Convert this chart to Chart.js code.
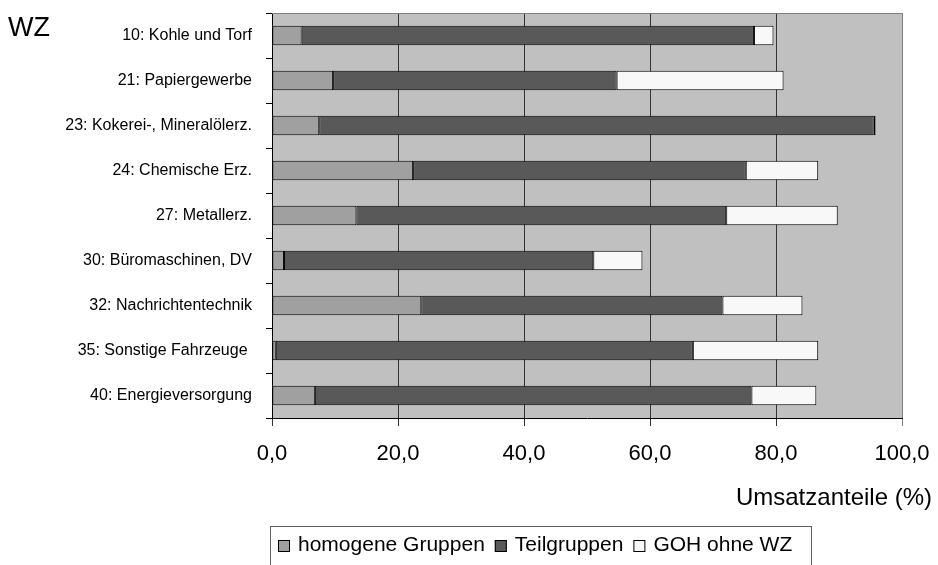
<!DOCTYPE html>
<html>
<head>
<meta charset="utf-8">
<script src="https://cdn.jsdelivr.net/npm/chart.js@4.4.1/dist/chart.umd.min.js"></script>
<style>
  html, body { margin: 0; padding: 0; background: #fff; }
  #wrap { width: 938px; height: 565px; }
</style>
</head>
<body>
<div id="wrap"><canvas id="bar-chart"></canvas></div>
<script>
  const categories = [
    "10: Kohle und Torf",
    "21: Papiergewerbe",
    "23: Kokerei-, Mineralölerz.",
    "24: Chemische Erz.",
    "27: Metallerz.",
    "30: Büromaschinen, DV",
    "32: Nachrichtentechnik",
    "35: Sonstige Fahrzeuge ",
    "40: Energieversorgung"
  ];
  const homogeneGruppen = [4.7, 9.7, 7.5, 22.4, 13.4, 1.9, 23.7, 0.6, 6.8];
  const teilgruppen = [71.8, 45.0, 88.0, 52.8, 58.7, 49.1, 47.8, 66.2, 69.3];
  const gohOhneWz = [3.1, 26.5, 0.3, 11.5, 17.7, 7.8, 12.7, 19.9, 10.3];
  const seriesNames = ["homogene Gruppen", "Teilgruppen", "GOH ohne WZ"];
  const xTickValues = [0, 20, 40, 60, 80, 100];
  const xTickLabels = ["0,0", "20,0", "40,0", "60,0", "80,0", "100,0"];
  const xTitle = "Umsatzanteile (%)";
  const yTitle = "WZ";

  const FONT = "'Liberation Sans', Arial, sans-serif";

  // Hintergrund, Rahmen, Achsentitel und Legende
  const deko = {
    id: "deko",
    beforeDraw(chart) {
      const { ctx, chartArea: a } = chart;
      ctx.save();
      ctx.fillStyle = "#c0c0c0";
      ctx.fillRect(a.left, a.top, a.right - a.left, a.bottom - a.top);
      ctx.restore();
    },
    afterDraw(chart) {
      const { ctx, chartArea: a } = chart;
      ctx.save();
      ctx.strokeStyle = "#808080";
      ctx.lineWidth = 1;
      ctx.beginPath();
      ctx.moveTo(a.left, a.top + 0.5);
      ctx.lineTo(a.right, a.top + 0.5);
      ctx.stroke();

      ctx.fillStyle = "#000";
      ctx.textBaseline = "alphabetic";
      ctx.textAlign = "left";
      ctx.font = "27px " + FONT;
      ctx.fillText(yTitle, 8, 36);

      ctx.textAlign = "right";
      ctx.font = "24px " + FONT;
      ctx.fillText(xTitle, 932, 505);

      // Legende
      ctx.strokeStyle = "#606060";
      ctx.strokeRect(270.5, 526.5, 541, 60);
      ctx.font = "21px " + FONT;
      ctx.textAlign = "left";
      let x = 278;
      chart.data.datasets.forEach((ds) => {
        ctx.fillStyle = ds.backgroundColor;
        ctx.fillRect(x, 540, 12, 12);
        ctx.strokeStyle = "#000";
        ctx.strokeRect(x + 0.5, 540.5, 11, 11);
        ctx.fillStyle = "#000";
        ctx.fillText(ds.label, x + 20, 551);
        x += 20 + ctx.measureText(ds.label).width + 10;
      });
      ctx.restore();
    }
  };

  const colors = ["#a0a0a0", "#595959", "#f8f8f8"];
  const values = [homogeneGruppen, teilgruppen, gohOhneWz];

  function noOverflow(s) {
    s.paddingLeft = 0;
    s.paddingRight = 0;
    s.paddingTop = 0;
    s.paddingBottom = 0;
  }

  const ctx = document.getElementById("bar-chart").getContext("2d");
  new Chart(ctx, {
    type: "bar",
    data: {
      labels: categories,
      datasets: values.map((v, i) => ({
        label: seriesNames[i],
        data: v,
        backgroundColor: colors[i],
        borderColor: "#000",
        borderWidth: 1,
        borderSkipped: false,
        barPercentage: 0.43,
        categoryPercentage: 1
      }))
    },
    options: {
      indexAxis: "y",
      responsive: true,
      maintainAspectRatio: false,
      animation: false,
      layout: { padding: { top: 13, right: 36, left: 0, bottom: 0 } },
      plugins: {
        legend: { display: false },
        tooltip: { enabled: false }
      },
      scales: {
        x: {
          type: "linear",
          stacked: true,
          min: 0,
          max: 100,
          afterFit(s) { s.height = 147; noOverflow(s); },
          ticks: {
            stepSize: 20,
            padding: 15,
            color: "#000",
            font: { family: FONT, size: 22 },
            callback(v) {
              const i = xTickValues.indexOf(v);
              return i >= 0 ? xTickLabels[i] : "";
            }
          },
          grid: {
            color(c) { return c.tick && c.tick.value === 100 ? "#808080" : "#333333"; },
            tickLength: 8
          },
          border: { color: "#000" }
        },
        y: {
          stacked: true,
          afterFit(s) { s.width = 272; noOverflow(s); },
          ticks: {
            padding: 14,
            autoSkip: false,
            color: "#000",
            font: { family: FONT, size: 16 }
          },
          grid: {
            offset: true,
            drawOnChartArea: false,
            tickLength: 6,
            color: "#000"
          },
          border: { color: "#000" }
        }
      }
    },
    plugins: [deko]
  });
</script>
</body>
</html>
